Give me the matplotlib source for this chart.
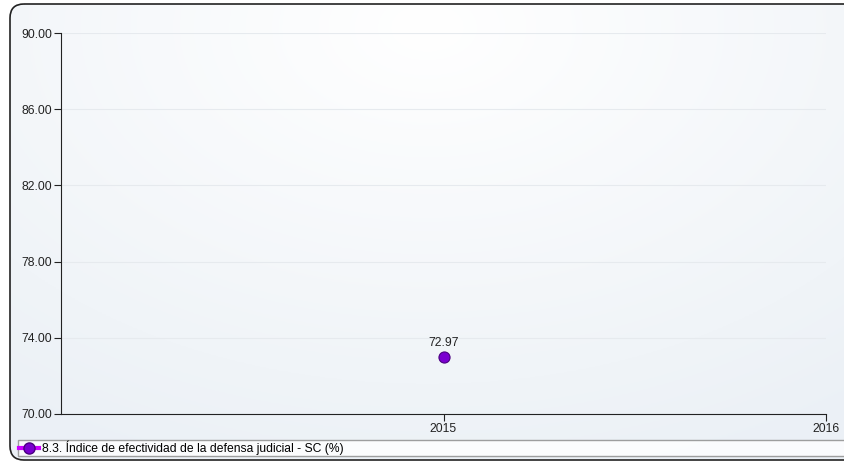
import numpy as np
import matplotlib.pyplot as plt
from matplotlib.patches import FancyBboxPatch
from matplotlib.lines import Line2D

plt.rcParams['font.family'] = ['Liberation Sans', 'DejaVu Sans']

# data
years = [2015]
valores = [72.97]
serie = "8.3. Índice de efectividad de la defensa judicial - SC (%)"
y_ticks = [70, 74, 78, 82, 86, 90]
x_ticks = [2015, 2016]

W, H = 845, 463
fig = plt.figure(figsize=(W / 100, H / 100), dpi=100)
fig.patch.set_facecolor('white')

# fondo con degradado suave, en pixeles
bg = fig.add_axes([0, 0, 1, 1], zorder=-5)
bg.axis('off')
bg.set_xlim(0, W)
bg.set_ylim(H, 0)
yy, xx = np.mgrid[0:1:200j, 0:1:400j]
r = np.sqrt(((xx - 0.5) * 1.2) ** 2 + (yy - 0.05) ** 2)
g = np.clip(r, 0, 1)
c0 = np.array([1.0, 1.0, 1.0])
c1 = np.array([0.925, 0.945, 0.965])
img = c0 + (c1 - c0) * g[..., None]
frame = FancyBboxPatch((10, 4), W + 40, 456,
                       boxstyle="round,pad=0,rounding_size=14",
                       facecolor='none', edgecolor='#222222', linewidth=1.2)
im = bg.imshow(img, extent=[10, W, 460, 4], aspect='auto')
im.set_clip_path(frame)
bg.add_patch(frame)
bg.set_xlim(0, W)
bg.set_ylim(H, 0)

ax = fig.add_axes([61 / W, 1 - 414 / H, (826 - 61) / W, (414 - 33) / H])
ax.set_facecolor('none')
ax.set_xlim(2014, 2016)
ax.set_ylim(70, 90)
ax.set_yticks(y_ticks)
ax.set_yticklabels([f"{v:.2f}" for v in y_ticks])
ax.set_xticks(x_ticks)
ax.set_xticklabels([str(v) for v in x_ticks])
for s in ['top', 'right']:
    ax.spines[s].set_visible(False)
ax.spines['left'].set_color('#222222')
ax.spines['bottom'].set_color('#222222')
ax.tick_params(axis='both', labelsize=8.7, colors='#222222', length=5, width=0.8, pad=1.5)
ax.yaxis.grid(True, color='#e6eaee', linewidth=0.8)
ax.set_axisbelow(True)

ax.plot(years, valores, color='#cc00ff', linewidth=2, marker='o', markersize=8,
        markerfacecolor='#7a00d0', markeredgecolor='#4a0080', markeredgewidth=0.8,
        zorder=5, clip_on=False)
for x, v in zip(years, valores):
    ax.annotate(f"{v:.2f}", (x, v), xytext=(0, 6), textcoords='offset points',
                ha='center', va='bottom', fontsize=8.7, color='#222222')

h = Line2D([], [], color='#cc00ff', linewidth=3, marker='o', markersize=8,
           markerfacecolor='#7a00d0', markeredgecolor='#4a0080')
leg = fig.legend([h], [serie], loc='lower left',
                 bbox_to_anchor=(18 / W, 7 / H, (W - 18) / W, 16 / H), mode='expand',
                 fontsize=8.7, frameon=True, fancybox=False, borderpad=0.05,
                 handlelength=1.7, handletextpad=0.25, borderaxespad=0)
leg.get_frame().set_edgecolor('#888888')
leg.get_frame().set_facecolor('white')
leg.get_frame().set_linewidth(1.0)

fig.savefig('out.png', dpi=100)
